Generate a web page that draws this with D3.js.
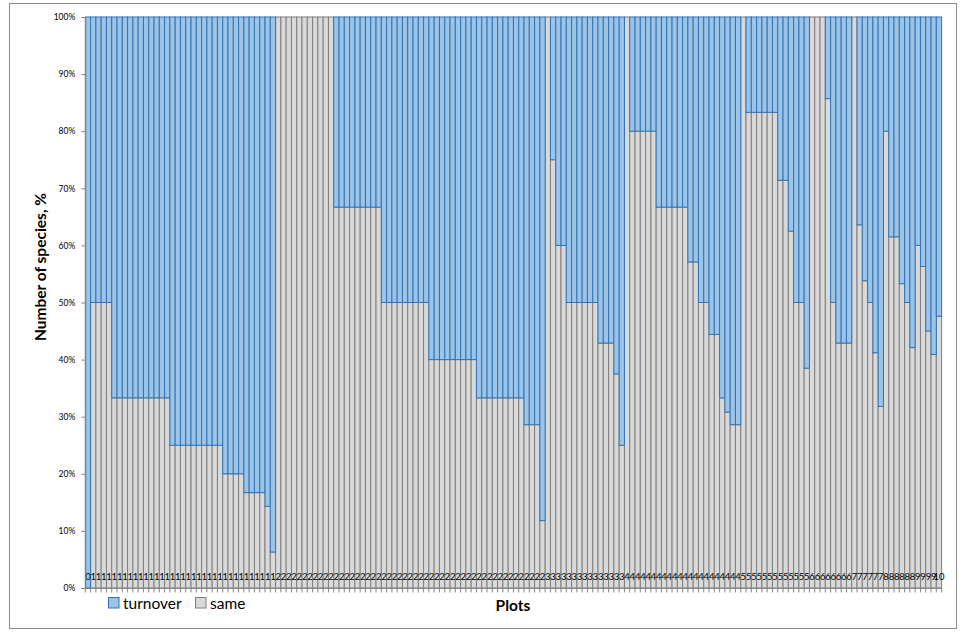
<!DOCTYPE html>
<html>
<head>
<meta charset="utf-8">
<script src="https://cdn.jsdelivr.net/npm/d3@7"></script>
<style>
  html, body { margin: 0; padding: 0; background: #ffffff; }
  svg { display: block; font-family: Lato, "Open Sans", sans-serif; }
</style>
</head>
<body>
<svg id="chart" width="961" height="640"></svg>
<script>
// ---------------- DATA ----------------
const plots = [
  "0",
  "1","1","1","1","1","1","1","1","1","1","1","1","1","1","1","1","1","1","1","1","1","1","1","1","1","1","1","1","1","1","1","1","1","1","1",
  "2","2","2","2","2","2","2","2","2","2","2","2","2","2","2","2","2","2","2","2","2","2","2","2","2","2","2","2","2","2","2","2","2","2","2","2","2","2","2","2","2","2","2","2","2","2","2","2","2","2","2",
  "3","3","3","3","3","3","3","3","3","3","3","3","3","3","3",
  "4","4","4","4","4","4","4","4","4","4","4","4","4","4","4","4","4","4","4","4","4","4",
  "5","5","5","5","5","5","5","5","5","5","5","5","5",
  "6","6","6","6","6","6","6","6",
  "7","7","7","7","7","7",
  "8","8","8","8","8","8",
  "9","9","9","9",
  "10"
];

// share of species that stayed the same, %
const same = [
  0,
  50,50,50,50,
  33.3,33.3,33.3,33.3,33.3,33.3,33.3,33.3,33.3,33.3,33.3,
  25,25,25,25,25,25,25,25,25,25,
  20,20,20,20,
  16.7,16.7,16.7,16.7,
  14.3,6.3,
  100,100,100,100,100,100,100,100,100,100,100,
  66.7,66.7,66.7,66.7,66.7,66.7,66.7,66.7,66.7,
  50,50,50,50,50,50,50,50,50,
  40,40,40,40,40,40,40,40,40,
  33.3,33.3,33.3,33.3,33.3,33.3,33.3,33.3,33.3,
  28.6,28.6,28.6,
  11.8,
  100,75,60,60,50,50,50,50,50,50,42.9,42.9,42.9,37.5,25,
  100,80,80,80,80,80,66.7,66.7,66.7,66.7,66.7,66.7,57.1,57.1,50,50,44.4,44.4,33.3,30.8,28.6,28.6,
  100,83.3,83.3,83.3,83.3,83.3,83.3,71.4,71.4,62.5,50,50,38.5,
  100,100,100,85.7,50,42.9,42.9,42.9,
  100,63.6,53.8,50,41.2,31.8,
  80,61.5,61.5,53.3,50,42.1,
  60,56.3,45,40.9,
  47.6
];

// share of species that turned over, %
const turnover = same.map(v => +(100 - v).toFixed(1));

const seriesKeys = ["same", "turnover"];
const seriesNames = { same: "same", turnover: "turnover" };
const yTicks = [0,10,20,30,40,50,60,70,80,90,100];

// ---------------- LAYOUT ----------------
const svg = d3.select("#chart");
const plot = { left: 85.3, right: 941.6, top: 17, bottom: 588 };
const colors = {
  same: { fill: "#d9d9d9", stroke: "#7f7f7f" },
  turnover: { fill: "#9dc3e6", stroke: "#2e75b6" }
};

// outer frame
svg.append("rect")
  .attr("x", 9.5).attr("y", 3.5)
  .attr("width", 947).attr("height", 625)
  .attr("fill", "#ffffff").attr("stroke", "#8c8c8c").attr("stroke-width", 1);

const table = plots.map((p, i) => ({ idx: i, plot: p, same: same[i], turnover: turnover[i] }));

const x = d3.scaleBand()
  .domain(table.map(d => d.idx))
  .range([plot.left, plot.right])
  .paddingInner(0).paddingOuter(0);

const y = d3.scaleLinear().domain([0, 100]).range([plot.bottom, plot.top]);

const stacked = d3.stack().keys(seriesKeys)(table);

// bars
stacked.forEach(layer => {
  const key = layer.key;
  svg.append("g")
    .attr("class", "series-" + key)
    .selectAll("rect")
    .data(layer.filter(d => d[1] - d[0] > 0))
    .join("rect")
      .attr("x", d => x(d.data.idx))
      .attr("y", d => y(d[1]))
      .attr("width", x.bandwidth())
      .attr("height", d => y(d[0]) - y(d[1]))
      .attr("fill", colors[key].fill)
      .attr("stroke", colors[key].stroke)
      .attr("stroke-width", 1);
});

// category labels inside the plot, just above the axis
svg.append("g")
  .selectAll("text")
  .data(table)
  .join("text")
    .attr("x", d => x(d.idx) + x.bandwidth() / 2)
    .attr("y", 580)
    .attr("text-anchor", "middle")
    .attr("font-size", 9.5)
    .attr("fill", "#000")
    .text(d => d.plot);

// x axis: line with ticks at each band boundary
const xAxis = d3.axisBottom(x).tickSize(0).tickFormat("");
const gx = svg.append("g").attr("transform", `translate(0,${plot.bottom})`).call(xAxis);
gx.select(".domain").attr("stroke", "#868686").attr("d", `M${plot.left},0.5H${plot.right}`);
gx.selectAll(".tick").remove();
const bounds = table.map(d => x(d.idx)).concat([plot.right]);
gx.selectAll("line.bt")
  .data(bounds)
  .join("line")
    .attr("class", "bt")
    .attr("x1", d => d).attr("x2", d => d)
    .attr("y1", 0).attr("y2", 4.5)
    .attr("stroke", "#868686").attr("stroke-width", 1);

// y axis
const yAxis = d3.axisLeft(y).tickValues(yTicks).tickSize(4).tickPadding(6)
  .tickFormat(d => d + "%");
const gy = svg.append("g").attr("transform", `translate(${plot.left},0)`).call(yAxis);
gy.select(".domain").attr("stroke", "#868686");
gy.selectAll(".tick line").attr("stroke", "#868686");
gy.selectAll(".tick text")
  .attr("font-size", 8.5)
  .attr("font-family", "Lato, sans-serif")
  .attr("fill", "#000");

// axis titles
svg.append("text")
  .attr("transform", "translate(46,267) rotate(-90)")
  .attr("text-anchor", "middle")
  .attr("font-size", 15.5)
  .attr("font-weight", "bold")
  .attr("fill", "#000")
  .text("Number of species, %");

svg.append("text")
  .attr("x", 513).attr("y", 611)
  .attr("text-anchor", "middle")
  .attr("font-size", 15.5)
  .attr("font-weight", "bold")
  .attr("fill", "#000")
  .text("Plots");

// legend
const legendItems = [
  { key: "turnover", x: 108.5 },
  { key: "same", x: 195.5 }
];
const lg = svg.append("g");
legendItems.forEach(it => {
  lg.append("rect")
    .attr("x", it.x).attr("y", 597.5)
    .attr("width", 10.5).attr("height", 10.5)
    .attr("fill", colors[it.key].fill)
    .attr("stroke", colors[it.key].stroke);
  lg.append("text")
    .attr("x", it.x + 14.5).attr("y", 608.5)
    .attr("font-size", 15.5)
    .attr("fill", "#000")
    .text(seriesNames[it.key]);
});
</script>
</body>
</html>
